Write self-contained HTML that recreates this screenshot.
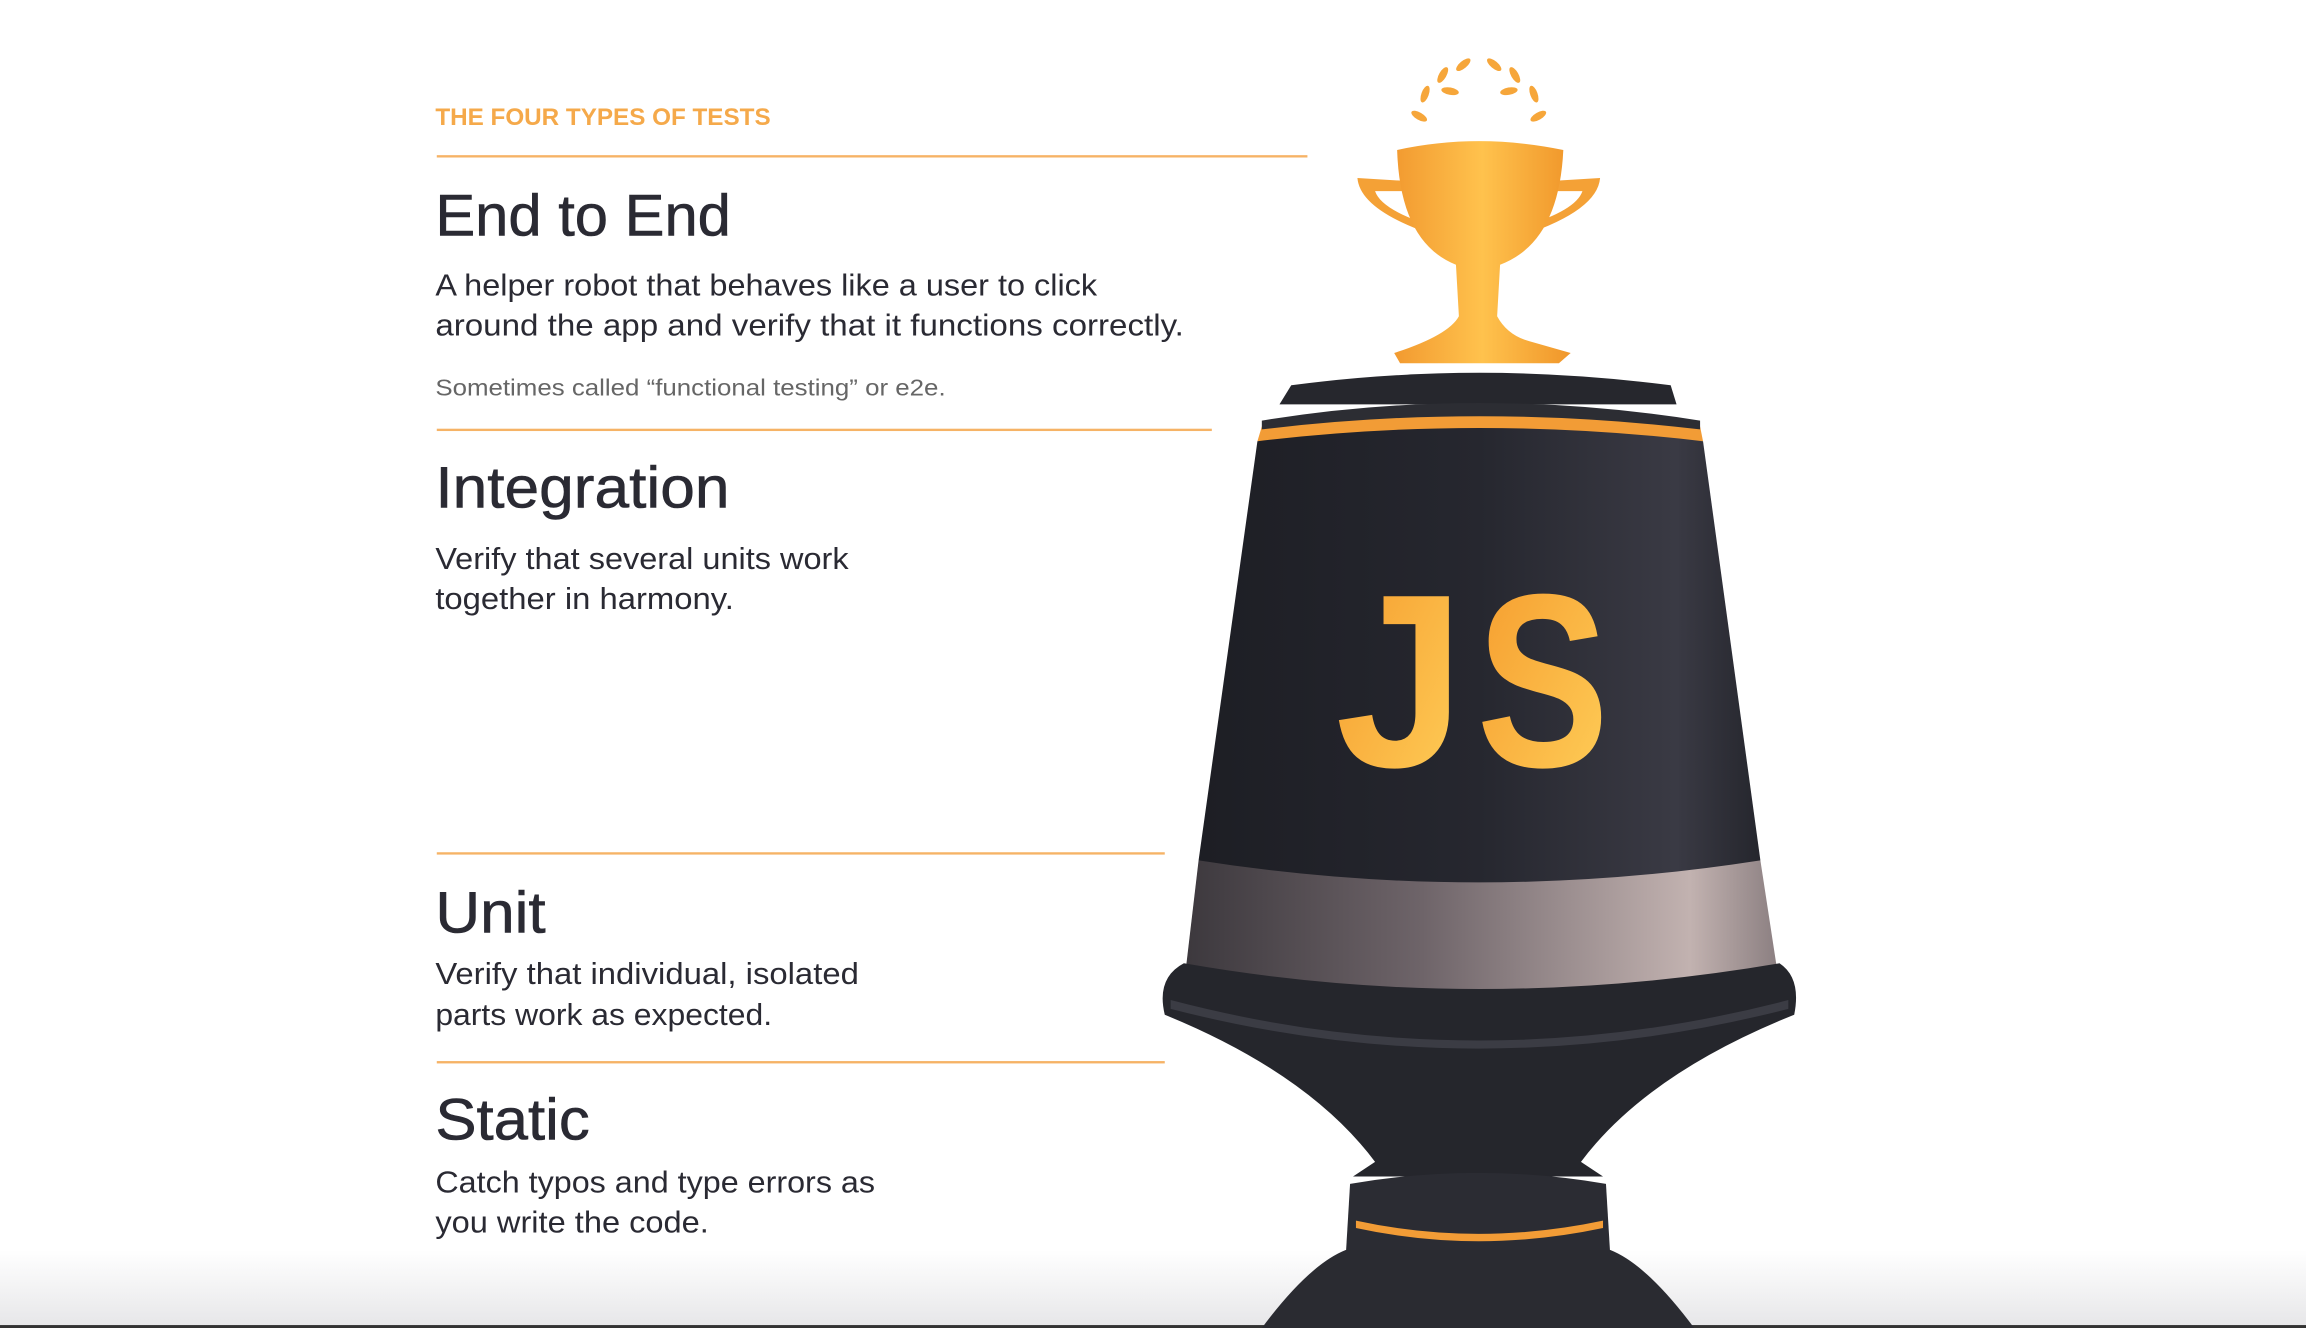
<!DOCTYPE html>
<html><head><meta charset="utf-8"><style>
html,body{margin:0;padding:0;background:#fff;width:2306px;height:1328px;overflow:hidden}
svg{display:block}
text{font-family:"Liberation Sans",sans-serif}
</style></head><body>
<svg width="2306" height="1328" viewBox="0 0 1568 903" preserveAspectRatio="none">
<defs>
<linearGradient id="bot" x1="0" y1="0" x2="0" y2="1"><stop offset="0" stop-color="#fff"/><stop offset="1" stop-color="#e6e6e8"/></linearGradient>
<linearGradient id="body" x1="0" y1="0" x2="1" y2="0"><stop offset="0" stop-color="#1d1e24"/><stop offset="0.5" stop-color="#26272f"/><stop offset="0.85" stop-color="#3a3a44"/><stop offset="1" stop-color="#25262d"/></linearGradient>
<linearGradient id="band" x1="0" y1="0" x2="1" y2="0"><stop offset="0" stop-color="#3c383d"/><stop offset="0.4" stop-color="#6e6469"/><stop offset="0.85" stop-color="#c2b2b0"/><stop offset="1" stop-color="#8a7e80"/></linearGradient>
<linearGradient id="gold" x1="0" y1="0" x2="1" y2="1"><stop offset="0" stop-color="#f59a2c"/><stop offset="1" stop-color="#ffd05a"/></linearGradient>
<linearGradient id="cup" x1="0" y1="0" x2="1" y2="0"><stop offset="0" stop-color="#f29a30"/><stop offset="0.5" stop-color="#ffc24d"/><stop offset="1" stop-color="#f0962a"/></linearGradient>
</defs>
<rect x="0" y="850" width="1568" height="53" fill="url(#bot)"/>
<rect x="0" y="901" width="1568" height="2" fill="#333"/>

<g lengthAdjust="spacingAndGlyphs">
<text x="296" y="85" font-size="16.5" font-weight="bold" fill="#f5a94a" textLength="228" lengthAdjust="spacingAndGlyphs">THE FOUR TYPES OF TESTS</text>
<text x="296" y="160" font-size="40" fill="#2a2a33" stroke="#2a2a33" stroke-width="0.4" textLength="201" lengthAdjust="spacingAndGlyphs">End to End</text>
<text x="296" y="201" font-size="21" fill="#2a2a33" textLength="450" lengthAdjust="spacingAndGlyphs">A helper robot that behaves like a user to click</text>
<text x="296" y="228" font-size="21" fill="#2a2a33" textLength="509" lengthAdjust="spacingAndGlyphs">around the app and verify that it functions correctly.</text>
<text x="296" y="269" font-size="16" fill="#666" textLength="347" lengthAdjust="spacingAndGlyphs">Sometimes called “functional testing” or e2e.</text>
<text x="296" y="345" font-size="40" fill="#2a2a33" stroke="#2a2a33" stroke-width="0.4" textLength="200" lengthAdjust="spacingAndGlyphs">Integration</text>
<text x="296" y="387" font-size="21" fill="#2a2a33" textLength="281" lengthAdjust="spacingAndGlyphs">Verify that several units work</text>
<text x="296" y="414" font-size="21" fill="#2a2a33" textLength="203" lengthAdjust="spacingAndGlyphs">together in harmony.</text>
<text x="296" y="634" font-size="40" fill="#2a2a33" stroke="#2a2a33" stroke-width="0.4" textLength="75" lengthAdjust="spacingAndGlyphs">Unit</text>
<text x="296" y="669" font-size="21" fill="#2a2a33" textLength="288" lengthAdjust="spacingAndGlyphs">Verify that individual, isolated</text>
<text x="296" y="697" font-size="21" fill="#2a2a33" textLength="229" lengthAdjust="spacingAndGlyphs">parts work as expected.</text>
<text x="296" y="775" font-size="40" fill="#2a2a33" stroke="#2a2a33" stroke-width="0.4" textLength="105" lengthAdjust="spacingAndGlyphs">Static</text>
<text x="296" y="811" font-size="21" fill="#2a2a33" textLength="299" lengthAdjust="spacingAndGlyphs">Catch typos and type errors as</text>
<text x="296" y="838" font-size="21" fill="#2a2a33" textLength="186" lengthAdjust="spacingAndGlyphs">you write the code.</text>
</g>
<rect x="297" y="105.5" width="592" height="1.6" fill="#f6b366"/>
<rect x="297" y="291.5" width="527" height="1.6" fill="#f6b366"/>
<rect x="297" y="579.5" width="495" height="1.6" fill="#f6b366"/>
<rect x="297" y="721.5" width="495" height="1.6" fill="#f6b366"/>

<!-- laurels -->
<g fill="#f6a63a">
<ellipse cx="995" cy="44" rx="6" ry="2.5" transform="rotate(-40 995 44)"/>
<ellipse cx="1016" cy="44" rx="6" ry="2.5" transform="rotate(40 1016 44)"/>
<ellipse cx="981" cy="51" rx="6" ry="2.5" transform="rotate(-60 981 51)"/>
<ellipse cx="1030" cy="51" rx="6" ry="2.5" transform="rotate(60 1030 51)"/>
<ellipse cx="969" cy="64" rx="6" ry="2.5" transform="rotate(-70 969 64)"/>
<ellipse cx="1043" cy="64" rx="6" ry="2.5" transform="rotate(70 1043 64)"/>
<ellipse cx="965" cy="79" rx="6" ry="2.5" transform="rotate(30 965 79)"/>
<ellipse cx="1046" cy="79" rx="6" ry="2.5" transform="rotate(-30 1046 79)"/>
<ellipse cx="986" cy="62" rx="6" ry="2.5" transform="rotate(10 986 62)"/>
<ellipse cx="1026" cy="62" rx="6" ry="2.5" transform="rotate(-10 1026 62)"/>
</g>
<!-- cup -->
<path d="M955 123 L923 121 Q925 145 985 163 L986 157 Q940 145 935 130 L955 130Z" fill="#f4a136"/>
<path d="M1056 123 L1088 121 Q1086 145 1026 163 L1025 157 Q1071 145 1076 130 L1056 130Z" fill="#f4a136"/>
<path d="M950 102 Q1005 90 1063 102 Q1060 165 1020 180 L1018 215 Q1025 228 1040 232 L1068 240 L1060 247 L952 247 L948 240 Q985 228 992 215 L990 180 Q952 165 950 102Z" fill="url(#cup)"/>
<!-- body -->
<path d="M878 262 Q1005 245 1136 262 L1140 275 L870 275Z" fill="#26272d"/>
<path d="M858 290 Q1005 268 1156 290 L1158 300 L855 300Z" fill="#f29c36"/>
<path d="M858 286 Q1005 262 1156 286 L1156 292 Q1005 274 858 292Z" fill="#2c2d33"/>
<path d="M815 585 L1197 585 L1210 670 Q1005 700 805 670Z" fill="url(#band)"/>
<path d="M855 300 Q1005 282 1158 300 L1197 585 Q1005 615 815 585Z" fill="url(#body)"/>
<path d="M805 655 Q1005 690 1210 655 Q1225 665 1220 690 Q1120 730 1075 790 L1090 800 L920 800 L935 790 Q890 730 792 690 Q786 665 805 655Z" fill="#25262c"/>
<path d="M796 680 Q1005 735 1216 680 L1216 686 Q1005 740 796 686Z" fill="#3b3c44"/>
<path d="M918 805 Q1005 790 1092 805 L1095 855 L915 855Z" fill="#2b2c33"/>
<path d="M922 830 Q1005 848 1090 830 L1090 835 Q1005 853 922 835Z" fill="#f29c36"/>
<path d="M915 850 L1095 850 Q1120 860 1152 903 L858 903 Q890 860 915 850Z" fill="#2a2b31"/>
<text x="908" y="521" font-size="168" font-weight="bold" fill="url(#gold)" textLength="88" lengthAdjust="spacingAndGlyphs">J</text>
<text x="1004" y="521" font-size="168" font-weight="bold" fill="url(#gold)" textLength="90" lengthAdjust="spacingAndGlyphs">S</text>
</svg>
</body></html>
